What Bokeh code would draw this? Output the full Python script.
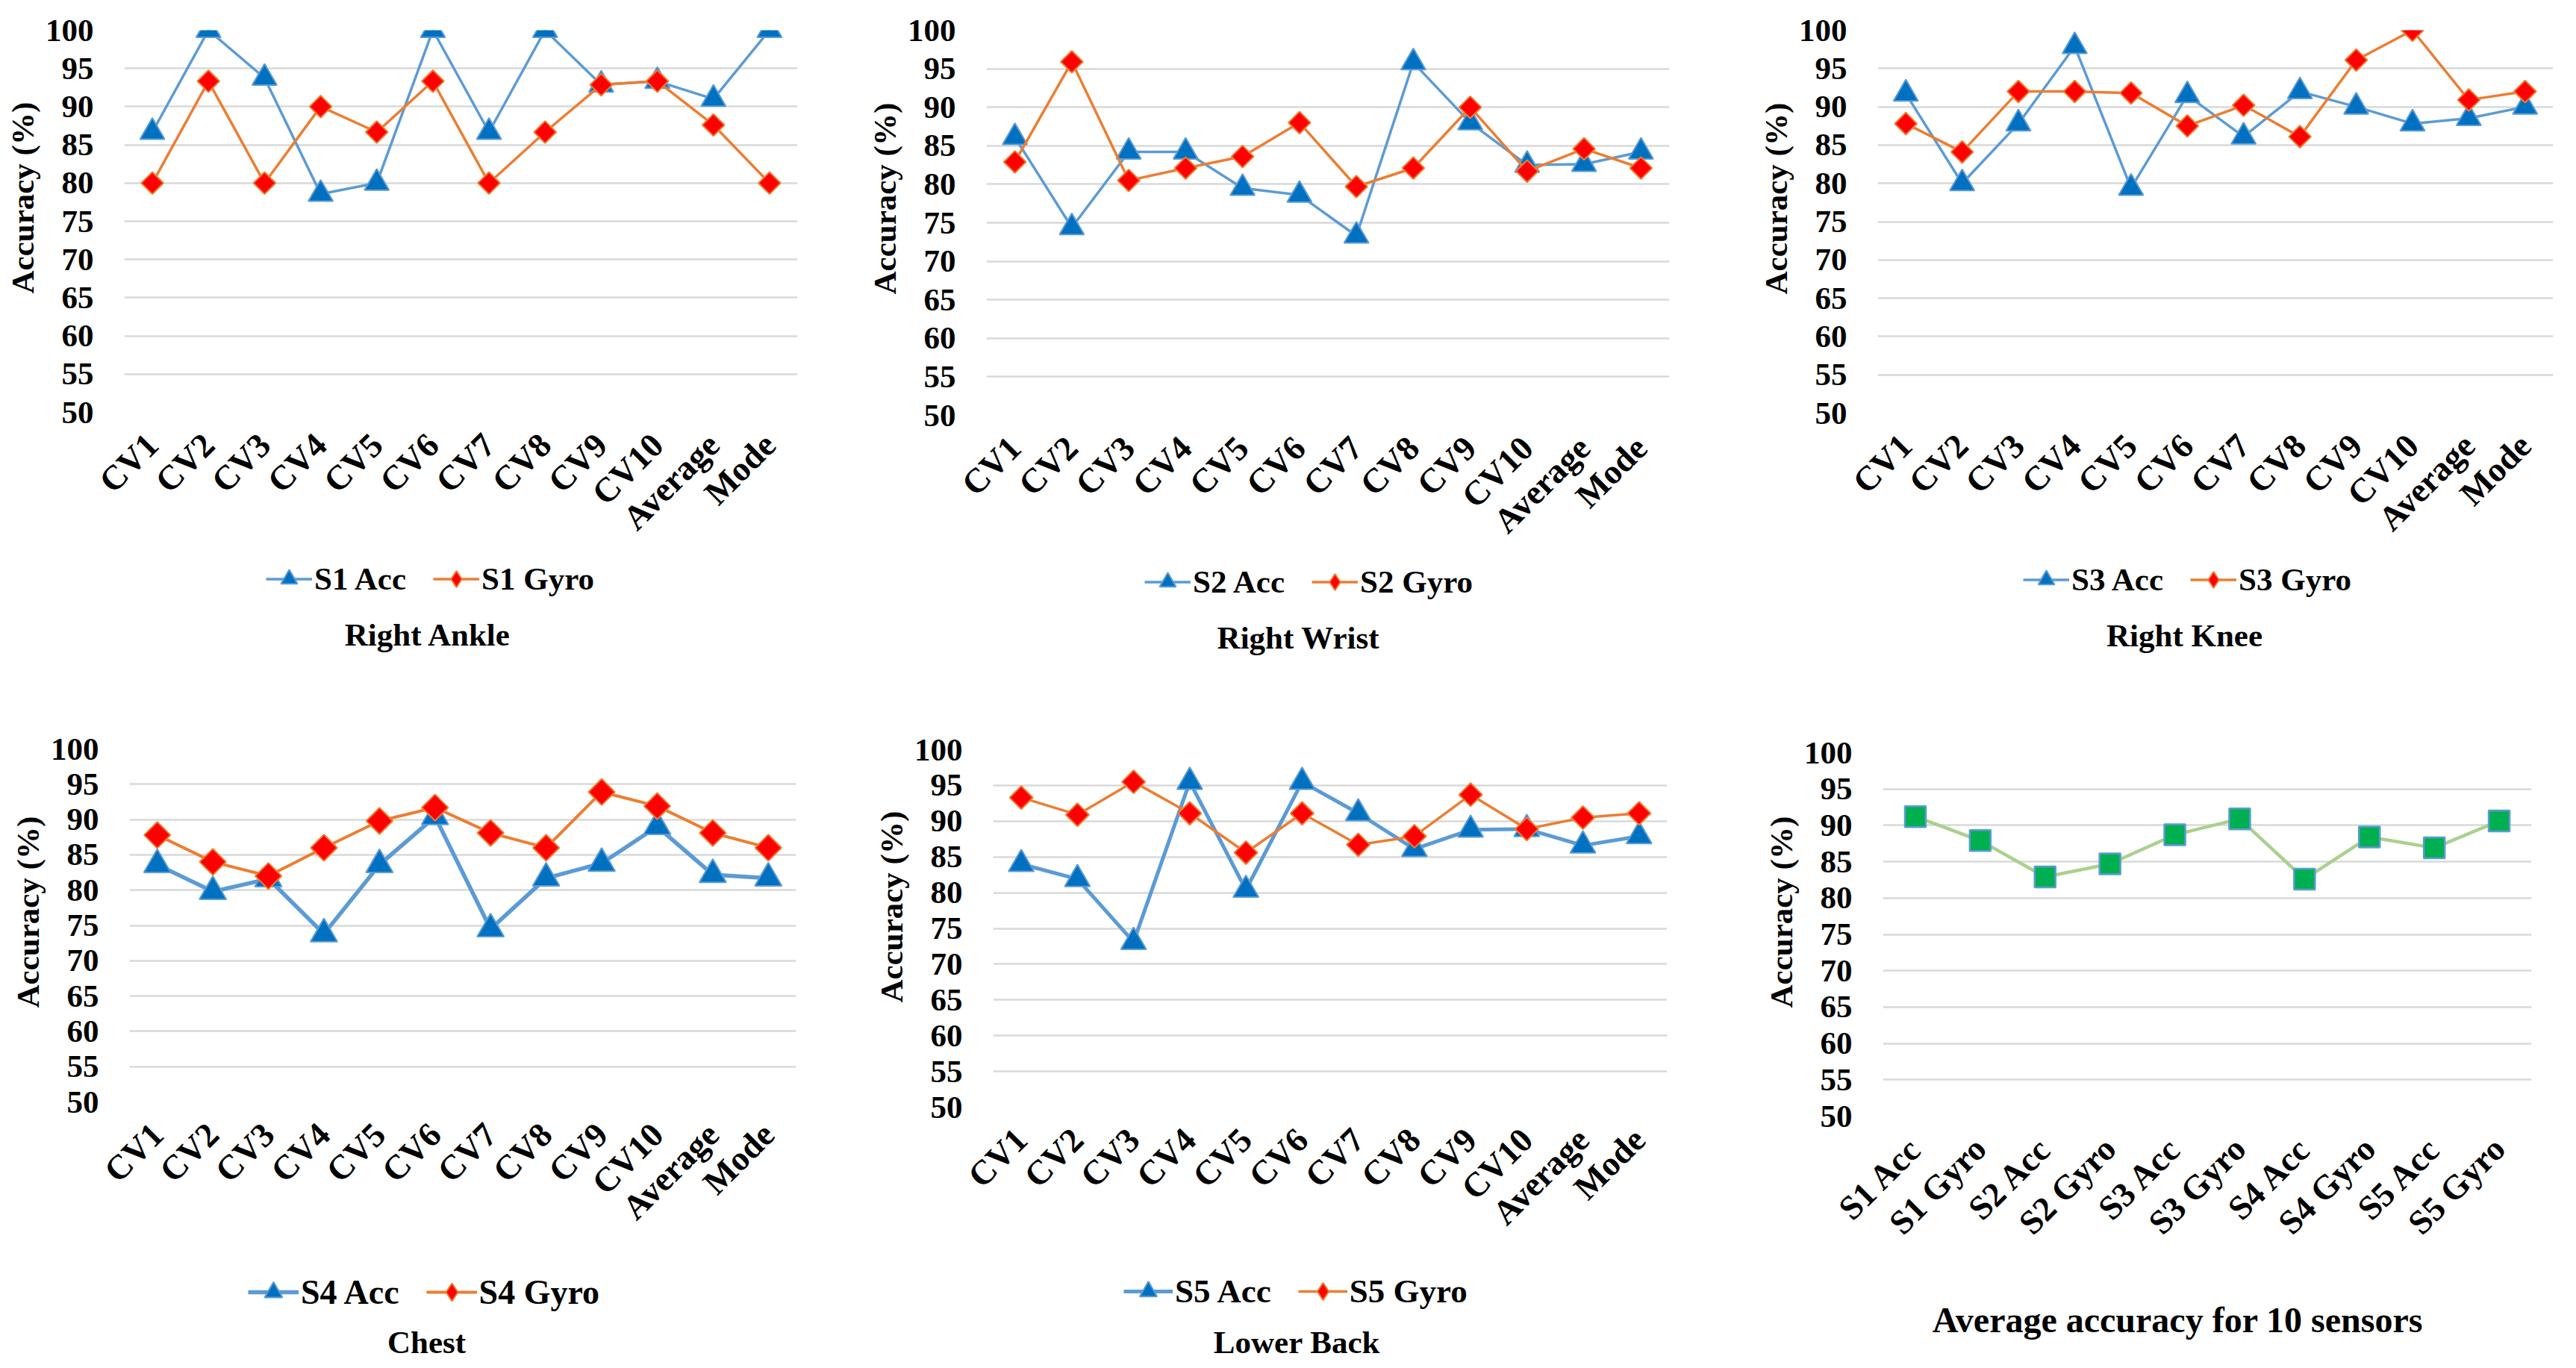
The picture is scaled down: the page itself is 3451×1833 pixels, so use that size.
import math
from bokeh.plotting import figure
from bokeh.models import (FactorRange, Range1d, SingleIntervalTicker, Label, Legend, LegendItem, Title)
from bokeh.layouts import column, row
from bokeh.embed import file_html
from bokeh.resources import INLINE

# ---------------- data ----------------
cv_labels = ["CV1", "CV2", "CV3", "CV4", "CV5", "CV6", "CV7", "CV8", "CV9", "CV10", "Average", "Mode"]

s1_acc = [86.67, 100, 93.75, 78.57, 80, 100, 86.67, 100, 92.86, 93.33, 91.0, 100]
s1_gyro = [80, 93.33, 80, 90, 86.67, 93.33, 80, 86.67, 92.86, 93.33, 87.6, 80]

s2_acc = [86.1, 74.4, 84.2, 84.2, 79.5, 78.6, 73.3, 95.8, 88.0, 82.5, 82.6, 84.2]
s2_gyro = [82.9, 95.9, 80.5, 82.1, 83.6, 88.0, 79.7, 82.1, 90.0, 81.7, 84.6, 82.1]

s3_acc = [91.7, 80.0, 87.8, 97.9, 79.4, 91.5, 86.1, 92.0, 90.0, 87.8, 88.5, 90.0]
s3_gyro = [87.8, 84.1, 92.0, 92.0, 91.8, 87.5, 90.2, 86.1, 96.1, 100, 90.9, 92.0]

s4_acc = [83.6, 79.8, 81.6, 73.8, 83.6, 90.4, 74.5, 81.7, 83.8, 89.0, 82.2, 81.7]
s4_gyro = [87.8, 84.0, 82.0, 86.0, 89.8, 91.7, 88.1, 86.0, 93.9, 91.9, 88.1, 86.0]

s5_acc = [84.0, 81.9, 73.1, 95.5, 80.4, 95.5, 91.1, 86.1, 88.8, 88.9, 86.6, 87.9]
s5_gyro = [93.3, 90.9, 95.5, 91.1, 85.6, 91.1, 86.7, 87.9, 93.7, 88.9, 90.5, 91.1]

sensor_labels = ["S1 Acc", "S1 Gyro", "S2 Acc", "S2 Gyro", "S3 Acc",
                 "S3 Gyro", "S4 Acc", "S4 Gyro", "S5 Acc", "S5 Gyro"]
avg_values = [91.2, 87.9, 82.9, 84.7, 88.7, 90.9, 82.6, 88.4, 86.9, 90.6]

y_min, y_max, y_step = 50, 100, 5
y_axis_title = "Accuracy (%)"

# ---------------- styling ----------------
FONT = "Liberation Serif"
BLACK = "#000000"
GRID = "#d9d9d9"
ACC_LINE = "#5b9bd5"
ACC_FILL = "#0070c0"
GYRO_LINE = "#ed7d31"
GYRO_FILL = "#ff0000"
AVG_LINE = "#a9d18e"
AVG_FILL = "#00b050"
NAN = float("nan")

FIG_W = 1145
ROW_H = [908, 909]
CHART_H = [740, 770]


def base_fig(cats, left, top, fw, fh, chart_h, ytitle_offset):
    right = FIG_W - left - fw
    bottom = chart_h - top - fh
    p = figure(x_range=FactorRange(*cats, range_padding=0),
               y_range=Range1d(y_min, y_max),
               frame_width=fw, frame_height=fh,
               min_border_left=left, min_border_right=right,
               min_border_top=top, min_border_bottom=bottom,
               output_backend="svg", toolbar_location=None,
               background_fill_color="white", border_fill_color="white")
    p.outline_line_color = None
    p.xgrid.grid_line_color = None
    p.ygrid.grid_line_color = GRID
    p.ygrid.grid_line_width = 2.5
    p.yaxis.ticker = SingleIntervalTicker(interval=y_step)
    for ax in (p.xaxis[0], p.yaxis[0]):
        ax.axis_line_color = None
        ax.major_tick_line_color = None
        ax.minor_tick_line_color = None
        ax.major_label_text_font = FONT
        ax.major_label_text_font_style = "bold"
        ax.major_label_text_color = BLACK
    p.yaxis.major_label_text_font_size = "43px"
    p.yaxis.major_label_standoff = 35
    p.xaxis.major_label_text_font_size = "46px"
    p.xaxis.major_label_orientation = math.pi / 4
    p.xaxis.major_label_standoff = 30
    p.add_layout(Title(text=y_axis_title, align="left", offset=ytitle_offset,
                       text_font=FONT, text_font_style="bold", text_font_size="43px",
                       text_color=BLACK, standoff=8), "left")
    return p


def footer_fig(left, fw, h):
    f = figure(frame_width=fw, frame_height=h, x_range=Range1d(0, fw), y_range=Range1d(0, h),
               min_border_left=left, min_border_right=FIG_W - left - fw,
               min_border_top=0, min_border_bottom=0,
               output_backend="svg", toolbar_location=None,
               background_fill_color="white", border_fill_color="white")
    f.outline_line_color = None
    f.axis.visible = False
    f.grid.grid_line_color = None
    return f


def add_title(f, text, x, y, size="43px"):
    f.add_layout(Label(x=x, y=y, x_units="screen", y_units="screen", text=text,
                       text_font=FONT, text_font_style="bold", text_font_size=size,
                       text_color=BLACK, text_align="center", text_baseline="middle"))


def sensor_panel(cats, acc, gyro, name, title, geom, st, r):
    left, top, fw, fh = geom["frame"]
    p = base_fig(cats, left, top, fw, fh, CHART_H[r], geom["yoff"])
    p.line(cats, acc, line_color=ACC_LINE, line_width=st["acc_lw"])
    p.scatter(cats, acc, marker="triangle", size=st["tri"], fill_color=ACC_FILL,
              line_color=ACC_LINE, line_width=2)
    p.line(cats, gyro, line_color=GYRO_LINE, line_width=st["gyro_lw"])
    p.scatter(cats, gyro, marker="square", angle=math.pi / 4, size=st["dia"],
              fill_color=GYRO_FILL, line_color=GYRO_LINE, line_width=2)

    f = footer_fig(left, fw, ROW_H[r] - CHART_H[r])
    # legend proxies (they hold no visible point)
    la = f.line([NAN], [NAN], line_color=ACC_LINE, line_width=st["acc_lw"])
    ma = f.scatter([NAN], [NAN], marker="triangle", fill_color=ACC_FILL,
                   line_color=ACC_LINE, line_width=2)
    lg = f.line([NAN], [NAN], line_color=GYRO_LINE, line_width=st["gyro_lw"])
    mg = f.scatter([NAN], [NAN], marker="diamond", fill_color=GYRO_FILL,
                   line_color=GYRO_LINE, line_width=2)
    lx, ly = geom["legend"]
    leg = Legend(items=[LegendItem(label=name + " Acc", renderers=[la, ma]),
                        LegendItem(label=name + " Gyro", renderers=[lg, mg])],
                 location=(lx, ly), orientation="horizontal",
                 glyph_width=st["gw"], glyph_height=st["gh"], label_height=44,
                 label_standoff=3, spacing=36, padding=0, margin=0,
                 border_line_color=None, background_fill_alpha=0,
                 label_text_font=FONT, label_text_font_style="bold",
                 label_text_font_size=st["legfont"], label_text_color=BLACK,
                 label_text_baseline="middle")
    f.add_layout(leg, "center")
    tx, ty = geom["title"]
    add_title(f, title, tx, ty)
    return column(p, f, spacing=0)


top_style = dict(acc_lw=3.5, gyro_lw=3.5, tri=33, dia=21, gw=62, gh=55, legfont="43px")
chest_style = dict(acc_lw=5.5, gyro_lw=4, tri=36, dia=25, gw=68, gh=60, legfont="46px")
back_style = dict(acc_lw=5, gyro_lw=3.5, tri=34, dia=22, gw=66, gh=58, legfont="45px")

c1 = sensor_panel(cv_labels, s1_acc, s1_gyro, "S1", "Right Ankle",
                  dict(frame=(164, 40, 902, 512), legend=(190, 105), title=(407, 58), yoff=159),
                  top_style, 0)
c2 = sensor_panel(cv_labels, s2_acc, s2_gyro, "S2", "Right Wrist",
                  dict(frame=(174, 40, 915, 516), legend=(212, 105), title=(418, 58), yoff=162),
                  top_style, 0)
c3 = sensor_panel(cv_labels, s3_acc, s3_gyro, "S3", "Right Knee",
                  dict(frame=(223, 40, 905, 513), legend=(195, 105), title=(411, 58), yoff=159),
                  top_style, 0)
c4 = sensor_panel(cv_labels, s4_acc, s4_gyro, "S4", "Chest",
                  dict(frame=(173, 91, 893, 473), legend=(159, 60), title=(398, 23), yoff=126),
                  chest_style, 1)
c5 = sensor_panel(cv_labels, s5_acc, s5_gyro, "S5", "Lower Back",
                  dict(frame=(185, 92, 903, 479), legend=(175, 62), title=(407, 23), yoff=140),
                  back_style, 1)

# average panel
p6 = base_fig(sensor_labels, 232, 96, 869, 487, CHART_H[1], 145)
p6.line(sensor_labels, avg_values, line_color=AVG_LINE, line_width=4.5)
p6.scatter(sensor_labels, avg_values, marker="square", size=28, fill_color=AVG_FILL,
           line_color=ACC_LINE, line_width=2.5)
f6 = footer_fig(232, 869, ROW_H[1] - CHART_H[1])
add_title(f6, "Average accuracy for 10 sensors", 395, 55, size="48px")
c6 = column(p6, f6, spacing=0)

layout = column(row(c1, c2, c3, spacing=0), row(c4, c5, c6, spacing=0), spacing=0)
open("out.html", "w").write(file_html(layout, INLINE))
